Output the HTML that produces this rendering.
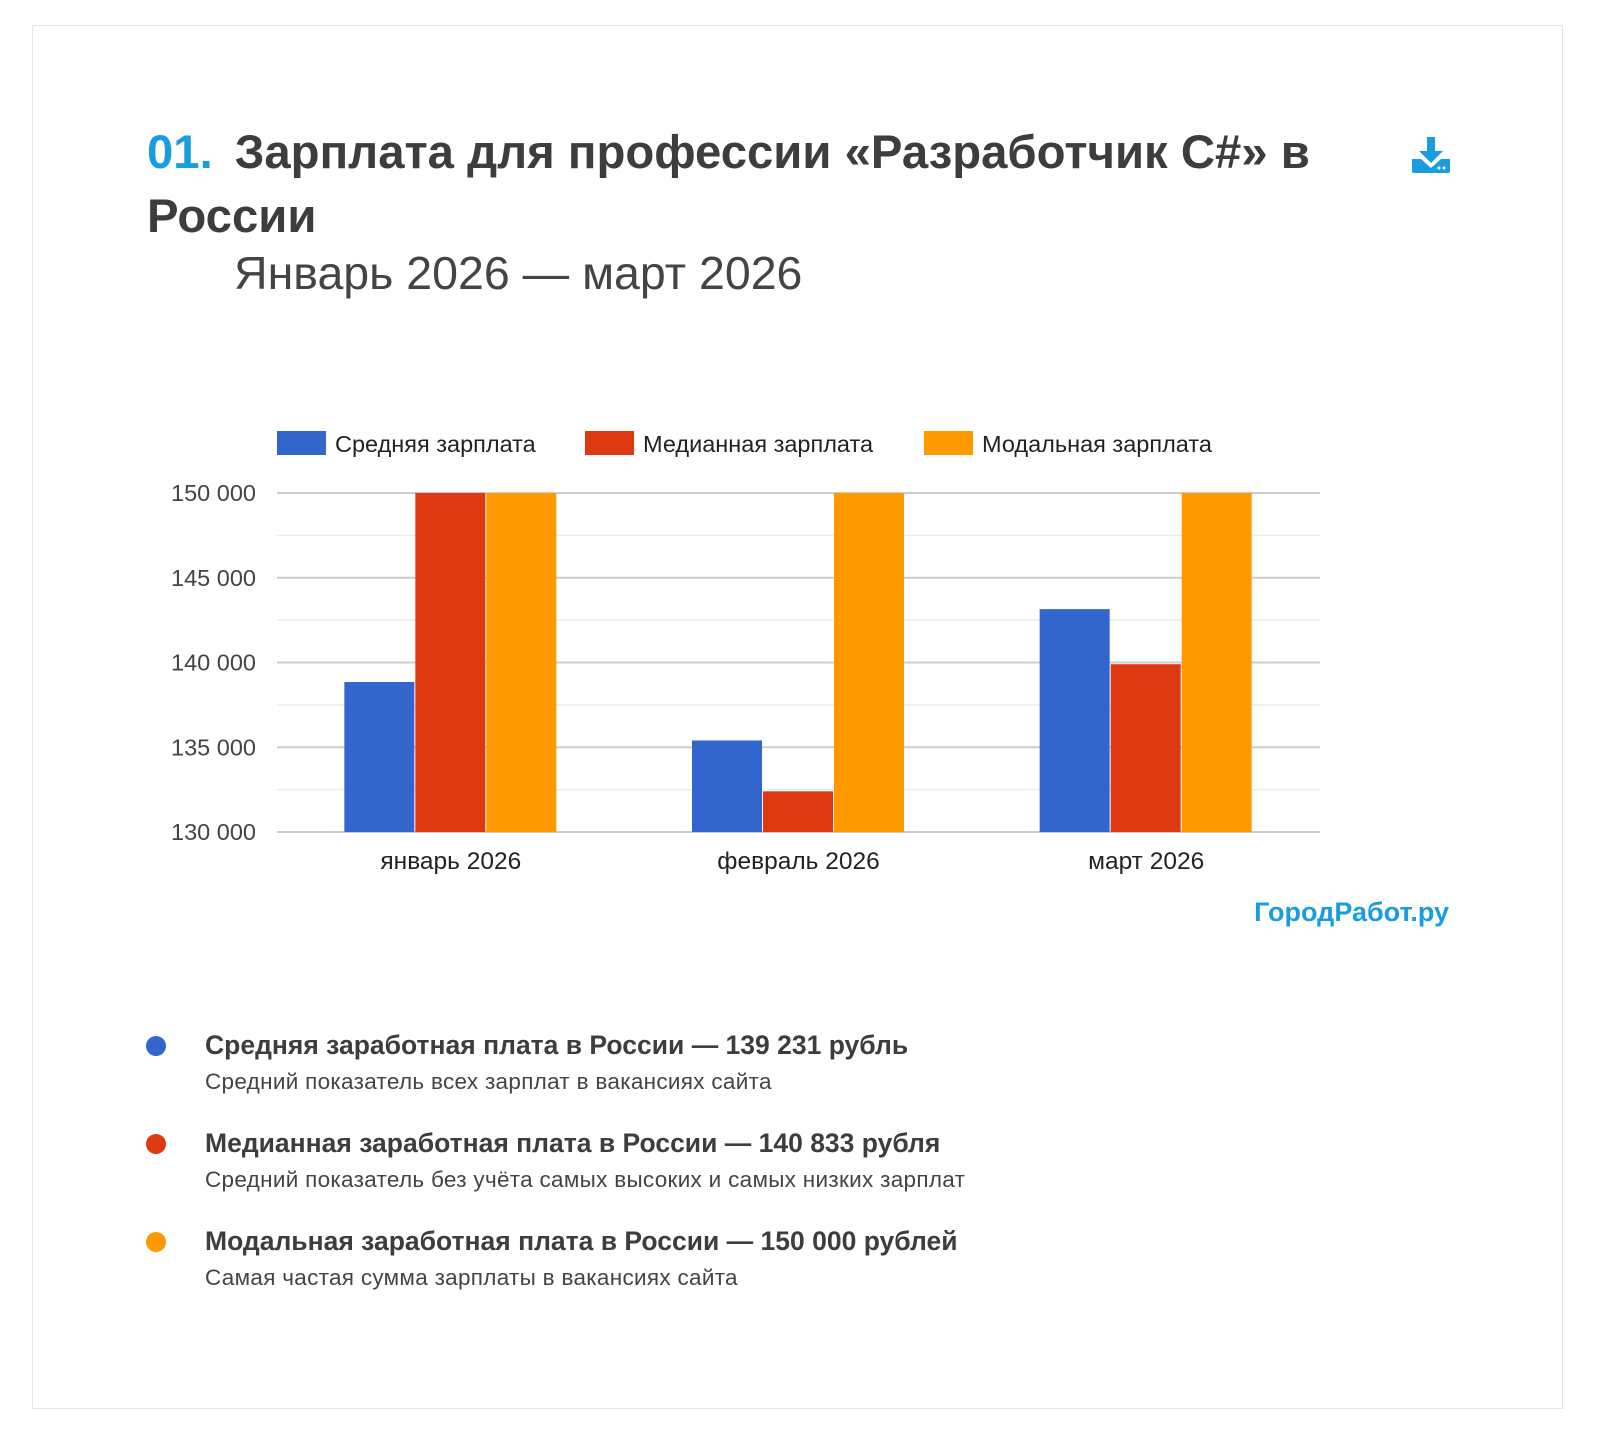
<!DOCTYPE html>
<html><head><meta charset="utf-8">
<style>
body{margin:0;width:1600px;height:1443px;background:#fff;font-family:"Liberation Sans","DejaVu Sans",sans-serif;position:relative;overflow:hidden}
.card{position:absolute;left:32px;top:25px;width:1531px;height:1384px;border:1px solid #e6e6e6;box-sizing:border-box}
.abs{position:absolute;white-space:nowrap}
.title{left:147px;top:121px;font-size:47.3px;font-weight:bold;color:#3d3d3d;line-height:64px}
.title .num{color:#1a9de0;margin-right:22px}
.sub{left:234px;top:246px;font-size:46.5px;color:#444}
.li-dot{position:absolute;width:20px;height:20px;border-radius:50%}
.li-h{font-size:26.5px;font-weight:bold;color:#3d3d3d}
.li-s{font-size:22.5px;color:#444;letter-spacing:0.3px}
</style></head><body>
<div class="card"></div>
<div class="abs title"><span class="num">01.</span>Зарплата для профессии «Разработчик C#» в<br>России</div>
<div class="abs sub">Январь 2026 — март 2026</div>
<svg class="abs" style="left:1410px;top:135px" width="42" height="42" viewBox="0 0 42 42">
<rect x="17" y="2" width="8" height="16" fill="#1a9de0"/><polygon points="9,16 33,16 21,28" fill="#1a9de0"/>
<path d="M2 24 h9 l10 9 l10-9 h9 v12 a2 2 0 0 1-2 2 h-34 a2 2 0 0 1-2-2z" fill="#1a9de0"/>
<circle cx="29" cy="33" r="1.5" fill="#fff"/><circle cx="34" cy="33" r="1.5" fill="#fff"/></svg>
<svg id="chart" class="abs" style="left:0;top:0" width="1600" height="900"></svg>
<div class="abs" style="right:151px;top:897px;font-size:27px;font-weight:bold;color:#1a9de0">ГородРабот.ру</div>

<div class="li-dot" style="left:146px;top:1036px;background:#3366cc"></div>
<div class="abs li-h" style="left:205px;top:1030px">Средняя заработная плата в России — 139 231 рубль</div>
<div class="abs li-s" style="left:205px;top:1069px">Средний показатель всех зарплат в вакансиях сайта</div>
<div class="li-dot" style="left:146px;top:1134px;background:#dc3912"></div>
<div class="abs li-h" style="left:205px;top:1128px">Медианная заработная плата в России — 140 833 рубля</div>
<div class="abs li-s" style="left:205px;top:1167px">Средний показатель без учёта самых высоких и самых низких зарплат</div>
<div class="li-dot" style="left:146px;top:1232px;background:#ff9900"></div>
<div class="abs li-h" style="left:205px;top:1226px">Модальная заработная плата в России — 150 000 рублей</div>
<div class="abs li-s" style="left:205px;top:1265px">Самая частая сумма зарплаты в вакансиях сайта</div>

<script>
const categories=["январь 2026","февраль 2026","март 2026"];
const seriesNames=["Средняя зарплата","Медианная зарплата","Модальная зарплата"];
const meanValues=[138850,135400,143150];
const medianValues=[150000,132400,139900];
const modeValues=[150000,150000,150000];
const yTicks=[130000,135000,140000,145000,150000];
const yTickLabels=["130 000","135 000","140 000","145 000","150 000"];
const colors=["#3366cc","#dc3912","#ff9900"];
const svg=document.getElementById('chart');const NS="http://www.w3.org/2000/svg";
const L=277,R=1320,T=493,B=832,yMin=130000,yMax=150000;
const y=v=>B-(v-yMin)/(yMax-yMin)*(B-T);
const bw=(R-L)/categories.length;
const x=i=>L+bw*i;
function mk(t,a){const e=document.createElementNS(NS,t);for(const k in a)e.setAttribute(k,a[k]);svg.appendChild(e);return e;}
for(let v=yMin;v<=yMax;v+=2500){const g=mk('line',{x1:L,x2:R,y1:y(v),y2:y(v),stroke:v%5000?'#ebebeb':'#cccccc','stroke-width':v%5000?1.5:2});

}
yTicks.forEach((v,i)=>{const t=mk('text',{x:256,y:y(v)+8,'text-anchor':'end','font-size':23.5,fill:'#444','font-family':'Liberation Sans'});t.textContent=yTickLabels[i];

});
const all=[meanValues,medianValues,modeValues];
categories.forEach((c,i)=>{
 all.forEach((s,j)=>{const bx=x(i)+bw/2-106.5+j*71;const r=mk('rect',{x:bx,y:y(s[i]),width:70,height:B-y(s[i]),fill:colors[j]});
 
 });
 const t=mk('text',{x:x(i)+bw/2,y:869,'text-anchor':'middle','font-size':24.5,fill:'#222','font-family':'Liberation Sans'});t.textContent=c;
 
 
});
const lx=[277,585,924];
seriesNames.forEach((n,j)=>{const r=mk('rect',{x:lx[j],y:431,width:49,height:24,fill:colors[j]});


const t=mk('text',{x:lx[j]+58,y:452,'font-size':23.5,fill:'#222','font-family':'Liberation Sans'});t.textContent=n;

});
</script>
</body></html>
